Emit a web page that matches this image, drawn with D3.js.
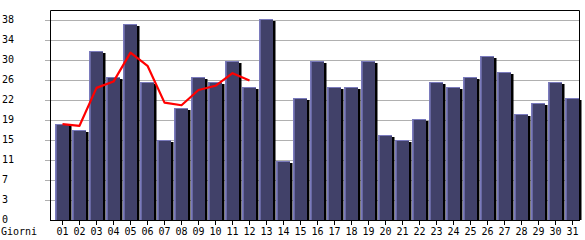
<!DOCTYPE html>
<html><head><meta charset="utf-8">
<script src="https://cdn.jsdelivr.net/npm/d3@7"></script>
<style>body{margin:0;background:#fff}svg{display:block}text{font-family:"DejaVu Sans Mono",monospace;font-size:10px;fill:#000}</style>
</head><body><svg id="c" width="585" height="240"></svg>
<script>
const days = ["01","02","03","04","05","06","07","08","09","10","11","12","13","14","15","16","17","18","19","20","21","22","23","24","25","26","27","28","29","30","31"];
const visits = [18,17,32,27,37,26,15,21,27,26,30,25,38,11,23,30,25,25,30,16,15,19,26,25,27,31,28,20,22,26,23];
const trendDays = ["01","02","03","04","05","06","07","08","09","10","11","12"];
const trend = [18.2,17.9,25.1,26.3,31.8,29.3,22.3,21.8,24.7,25.5,27.9,26.5];
const yTickValues = [0,3.8,7.6,11.4,15.2,19,22.8,26.6,30.4,34.2,38];
const xAxisLabel = "Giorni";

const svg = d3.select("#c");
const L = 50, R = 579, T = 10, B = 220;
const yMax = d3.max(visits) * 1.05;
const y = d3.scaleLinear().domain([0, yMax]).range([B, T]);
const x = d3.scaleBand().domain(days).range([55, 55 + 17 * days.length]).paddingInner(0).paddingOuter(0);
const bw = 14;

// gridlines + left ticks
svg.append("g").selectAll("line").data(yTickValues.slice(1)).join("line")
  .attr("x1", L - 5).attr("x2", R)
  .attr("y1", d => Math.round(y(d)) + 0.5).attr("y2", d => Math.round(y(d)) + 0.5)
  .attr("stroke", "#b0b0b0").attr("stroke-width", 1);

// y labels
svg.append("g").selectAll("text").data(yTickValues).join("text")
  .attr("x", 2).attr("y", d => Math.round(y(d)) + 3)
  .text(d => Math.floor(d));

// frame top/right
svg.append("path").attr("d", `M${L+0.5},${B}V${T+0.5}H${R+0.5}V${B}`)
  .attr("fill", "none").attr("stroke", "#000");

// bars
const g = svg.append("g");
visits.forEach((v, i) => {
  const x0 = x(days[i]);
  const yt = Math.round(y(v)) - 1;
  g.append("rect").attr("x", x0 + bw).attr("y", yt + 2).attr("width", 2.5).attr("height", B - yt - 2).attr("fill", "#000");
  g.append("rect").attr("x", x0).attr("y", yt).attr("width", bw).attr("height", B - yt).attr("fill", "#7a7abc");
  g.append("rect").attr("x", x0 + 1.7).attr("y", yt + 1).attr("width", bw - 1.7).attr("height", B - yt - 1).attr("fill", "#414169");
});

// bottom axis
svg.append("line").attr("x1", L).attr("x2", R + 1).attr("y1", B + 0.5).attr("y2", B + 0.5).attr("stroke", "#000");
svg.append("g").selectAll("line").data(days).join("line")
  .attr("x1", d => Math.round(x(d) + 7) + 0.5).attr("x2", d => Math.round(x(d) + 7) + 0.5)
  .attr("y1", B).attr("y2", B + 5).attr("stroke", "#000");
svg.append("g").selectAll("text").data(days).join("text")
  .attr("x", d => x(d) + 7.5).attr("y", 235).attr("text-anchor", "middle").text(d => d);
svg.append("text").attr("x", 1).attr("y", 235).text(xAxisLabel);

// trend line
const line = d3.line().x((d, i) => x(trendDays[i]) + 7.5).y(d => y(d));
svg.append("path").datum(trend).attr("d", line)
  .attr("fill", "none").attr("stroke", "#ff0000").attr("stroke-width", 2.2).attr("stroke-linejoin", "round");
</script></body></html>
